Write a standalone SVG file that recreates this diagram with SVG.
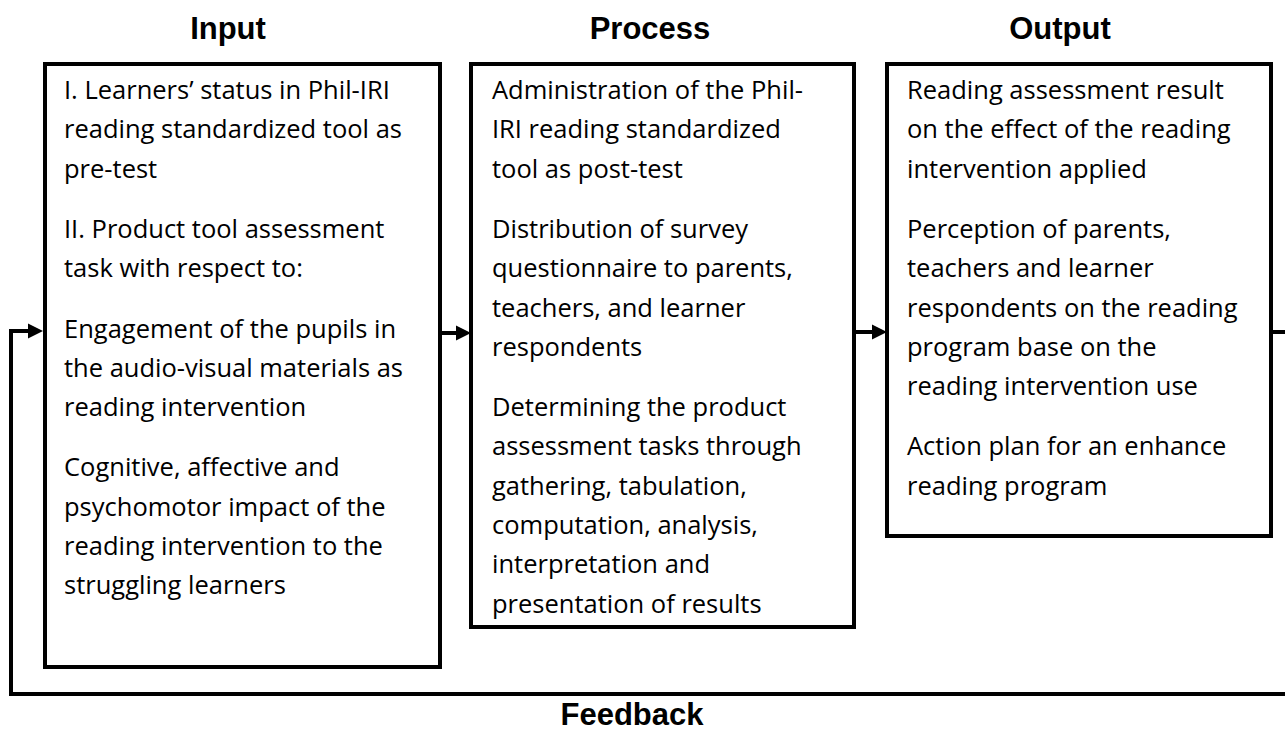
<svg xmlns="http://www.w3.org/2000/svg" width="1285" height="733" viewBox="0 0 1285 733">
<style>
.box{fill:#fff;stroke:#000;stroke-width:4}
.t{font-family:"Open Sans","Liberation Sans",sans-serif;font-size:25.5px;fill:#000}
.h{font-family:"Liberation Sans",Arial,sans-serif;font-size:31px;font-weight:bold;fill:#000;text-anchor:middle}
.c{fill:none;stroke:#000;stroke-width:4}
</style>
<rect width="1285" height="733" fill="#fff"/>
<text class="h" x="228" y="39">Input</text>
<text class="h" x="650" y="39">Process</text>
<text class="h" x="1060" y="39">Output</text>
<text class="h" x="632" y="725">Feedback</text>
<g id="connectors">
<path class="c" d="M1285,694 H11 V331 H28"/>
<path d="M28,323.5 L43,331 L28,338.5 Z"/>
<path class="c" d="M440,333 H456"/>
<path d="M456,325.5 L471,333 L456,340.5 Z"/>
<path class="c" d="M854,332 H872"/>
<path d="M872,324.5 L887,332 L872,339.5 Z"/>
<path class="c" d="M1271,332 H1285"/>
</g>
<g id="input">
<rect class="box" x="45" y="64" width="395" height="603"/>
<text class="t" x="64" y="99">I. Learners’ status in Phil-IRI</text>
<text class="t" x="64" y="138.3">reading standardized tool as</text>
<text class="t" x="64" y="177.6">pre-test</text>
<text class="t" x="64" y="237.9">II. Product tool assessment</text>
<text class="t" x="64" y="277.2">task with respect to:</text>
<text class="t" x="64" y="337.5">Engagement of the pupils in</text>
<text class="t" x="64" y="376.8">the audio-visual materials as</text>
<text class="t" x="64" y="416.1">reading intervention</text>
<text class="t" x="64" y="476.4">Cognitive, affective and</text>
<text class="t" x="64" y="515.7">psychomotor impact of the</text>
<text class="t" x="64" y="555">reading intervention to the</text>
<text class="t" x="64" y="594.3">struggling learners</text>
</g>
<g id="process">
<rect class="box" x="471" y="64" width="383" height="563"/>
<text class="t" x="492" y="99">Administration of the Phil-</text>
<text class="t" x="492" y="138.3">IRI reading standardized</text>
<text class="t" x="492" y="177.6">tool as post-test</text>
<text class="t" x="492" y="237.9">Distribution of survey</text>
<text class="t" x="492" y="277.2">questionnaire to parents,</text>
<text class="t" x="492" y="316.5">teachers, and learner</text>
<text class="t" x="492" y="355.8">respondents</text>
<text class="t" x="492" y="416.1">Determining the product</text>
<text class="t" x="492" y="455.4">assessment tasks through</text>
<text class="t" x="492" y="494.7">gathering, tabulation,</text>
<text class="t" x="492" y="534">computation, analysis,</text>
<text class="t" x="492" y="573.3">interpretation and</text>
<text class="t" x="492" y="612.6">presentation of results</text>
</g>
<g id="output">
<rect class="box" x="887" y="64" width="384" height="472"/>
<text class="t" x="907" y="99">Reading assessment result</text>
<text class="t" x="907" y="138.3">on the effect of the reading</text>
<text class="t" x="907" y="177.6">intervention applied</text>
<text class="t" x="907" y="237.9">Perception of parents,</text>
<text class="t" x="907" y="277.2">teachers and learner</text>
<text class="t" x="907" y="316.5">respondents on the reading</text>
<text class="t" x="907" y="355.8">program base on the</text>
<text class="t" x="907" y="395.1">reading intervention use</text>
<text class="t" x="907" y="455.4">Action plan for an enhance</text>
<text class="t" x="907" y="494.7">reading program</text>
</g>
</svg>
